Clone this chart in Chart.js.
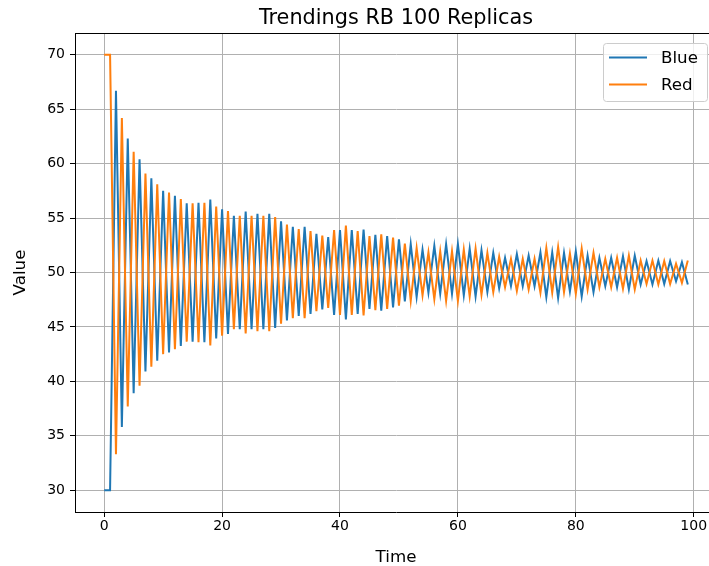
<!DOCTYPE html>
<html>
<head>
<meta charset="utf-8">
<script src="https://cdn.jsdelivr.net/npm/chart.js@4.4.1/dist/chart.umd.min.js"></script>
<style>
  body { margin: 0; background: #fff; overflow: hidden; }
  /* the reference is cropped on the right, so the canvas is a little wider than the window */
  #wrap { width: 709px; height: 566px; overflow: hidden; }
</style>
</head>
<body>
<div id="wrap"><canvas id="chart" width="718" height="566"></canvas></div>
<script>
// Values (one value per time step 0..99)
const blueValues = [
  30, 30, 66.7, 35.8, 62.3, 38.9, 60.4, 40.9, 58.65, 41.9,
  57.5, 42.65, 57.05, 43.25, 56.35, 43.65, 56.4, 43.6, 56.7, 43.95,
  55.8, 44.35, 55.2, 44.8, 55.6, 44.8, 55.4, 44.8, 55.4, 44.9,
  54.7, 45.6, 54.2, 46.0, 54.2, 46.2, 53.55, 46.6, 53.25, 46.1,
  53.9, 45.7, 53.9, 46.2, 53.95, 46.65, 53.45, 46.5, 53.35, 46.8,
  53.05, 47.35, 52.6, 47.75, 52.1, 48.15, 52.45, 48.05, 52.6, 48.05,
  52.6, 47.9, 52.2, 47.8, 52.05, 48.2, 51.8, 48.55, 51.35, 48.75,
  51.7, 48.75, 51.55, 48.75, 51.85, 47.75, 51.85, 47.65, 51.8, 48.25,
  51.95, 47.8, 51.55, 48.2, 51.35, 48.75, 51.35, 48.65, 51.5, 48.45,
  51.55, 48.9, 51.05, 48.9, 51.1, 48.95, 51.05, 49.2, 50.95, 48.9
];
const redValues = [
  70, 70, 33.3, 64.2, 37.7, 61.1, 39.6, 59.1, 41.35, 58.1,
  42.5, 57.35, 42.95, 56.75, 43.65, 56.35, 43.6, 56.4, 43.3, 56.05,
  44.2, 55.65, 44.8, 55.2, 44.4, 55.2, 44.6, 55.2, 44.6, 55.1,
  45.3, 54.4, 45.8, 54.0, 45.8, 53.8, 46.45, 53.4, 46.75, 53.9,
  46.1, 54.3, 46.1, 53.8, 46.05, 53.35, 46.55, 53.5, 46.65, 53.2,
  46.95, 52.65, 47.4, 52.25, 47.9, 51.85, 47.55, 51.95, 47.4, 51.95,
  47.4, 52.1, 47.8, 52.2, 47.95, 51.8, 48.2, 51.45, 48.65, 51.25,
  48.3, 51.25, 48.45, 51.25, 48.15, 52.25, 48.15, 52.35, 48.2, 51.75,
  48.05, 52.2, 48.45, 51.8, 48.65, 51.25, 48.65, 51.35, 48.5, 51.55,
  48.45, 51.1, 48.95, 51.1, 48.9, 51.05, 48.95, 50.8, 49.05, 51.1
];
const seriesNames = ['Blue', 'Red'];
const xTicks = [0, 20, 40, 60, 80, 100];
const yTicks = [30, 35, 40, 45, 50, 55, 60, 65, 70];

const FONT = "'DejaVu Sans', sans-serif";
const BLUE = '#1f77b4';
const ORANGE = '#ff7f0e';

// time step = index
const toPoints = arr => arr.map((v, i) => ({ x: i, y: v }));

// title, top spine and legend (matplotlib look)
const extrasPlugin = {
  id: 'extras',
  afterDraw(chart) {
    const ctx = chart.ctx;
    const area = chart.chartArea;

    // top spine
    ctx.save();
    ctx.strokeStyle = '#000';
    ctx.lineWidth = 1;
    ctx.beginPath();
    ctx.moveTo(area.left, area.top + 0.5);
    ctx.lineTo(area.right, area.top + 0.5);
    ctx.stroke();

    // title centred over the axes
    ctx.fillStyle = '#000';
    ctx.font = '20.8px ' + FONT;
    ctx.textAlign = 'center';
    ctx.textBaseline = 'alphabetic';
    ctx.fillText('Trendings RB 100 Replicas', (area.left + area.right) / 2, area.top - 9);

    // legend box
    const bx = 603.5, by = 43.5, bw = 104, bh = 58, r = 3;
    ctx.beginPath();
    ctx.moveTo(bx + r, by);
    ctx.lineTo(bx + bw - r, by);
    ctx.arcTo(bx + bw, by, bx + bw, by + r, r);
    ctx.lineTo(bx + bw, by + bh - r);
    ctx.arcTo(bx + bw, by + bh, bx + bw - r, by + bh, r);
    ctx.lineTo(bx + r, by + bh);
    ctx.arcTo(bx, by + bh, bx, by + bh - r, r);
    ctx.lineTo(bx, by + r);
    ctx.arcTo(bx, by, bx + r, by, r);
    ctx.closePath();
    ctx.fillStyle = 'rgba(255,255,255,0.8)';
    ctx.fill();
    ctx.strokeStyle = '#cccccc';
    ctx.stroke();

    ctx.font = '16.7px ' + FONT;
    ctx.textAlign = 'left';
    ctx.textBaseline = 'middle';
    chart.data.datasets.forEach((ds, i) => {
      const ly = 57.5 + i * 27;
      ctx.strokeStyle = ds.borderColor;
      ctx.lineWidth = 2;
      ctx.beginPath();
      ctx.moveTo(609, ly);
      ctx.lineTo(647, ly);
      ctx.stroke();
      ctx.fillStyle = '#000';
      ctx.fillText(ds.label, 661, ly + 1);
    });
    ctx.restore();
  }
};

new Chart(document.getElementById('chart'), {
  type: 'line',
  data: {
    datasets: [
      {
        label: seriesNames[0],
        data: toPoints(blueValues),
        borderColor: BLUE,
        backgroundColor: BLUE,
        borderWidth: 2,
        pointRadius: 0,
        tension: 0,
        order: 1
      },
      {
        label: seriesNames[1],
        data: toPoints(redValues),
        borderColor: ORANGE,
        backgroundColor: ORANGE,
        borderWidth: 2,
        pointRadius: 0,
        tension: 0,
        order: 0
      }
    ]
  },
  options: {
    responsive: false,
    animation: false,
    devicePixelRatio: 1,
    layout: { padding: { top: 33, right: 1, bottom: 0, left: 0 } },
    plugins: {
      legend: { display: false },
      tooltip: { enabled: false },
      title: { display: false }
    },
    scales: {
      x: {
        type: 'linear',
        min: -4.95,
        max: 103.95,
        afterBuildTicks: scale => { scale.ticks = xTicks.map(v => ({ value: v })); },
        afterFit: scale => { scale.height = 54; },
        grid: { color: '#b0b0b0', lineWidth: 1, tickColor: '#000', tickLength: 5 },
        border: { color: '#000', width: 1 },
        ticks: { autoSkip: false, maxRotation: 0, padding: 1, color: '#000', font: { family: FONT, size: 14 } },
        title: { display: true, text: 'Time', color: '#000', font: { family: FONT, size: 16.7, lineHeight: 1 }, padding: { top: 0, bottom: 0 } }
      },
      y: {
        min: 28,
        max: 72,
        afterBuildTicks: scale => { scale.ticks = yTicks.map(v => ({ value: v })); },
        afterFit: scale => { scale.width = 75; },
        grid: { color: '#b0b0b0', lineWidth: 1, tickColor: '#000', tickLength: 5 },
        border: { color: '#000', width: 1 },
        ticks: { padding: 5, color: '#000', font: { family: FONT, size: 14 } },
        title: { display: true, text: 'Value', color: '#000', font: { family: FONT, size: 16.7, lineHeight: 1 }, padding: { top: 12, bottom: 0 } }
      }
    }
  },
  plugins: [extrasPlugin]
});
</script>
</body>
</html>
